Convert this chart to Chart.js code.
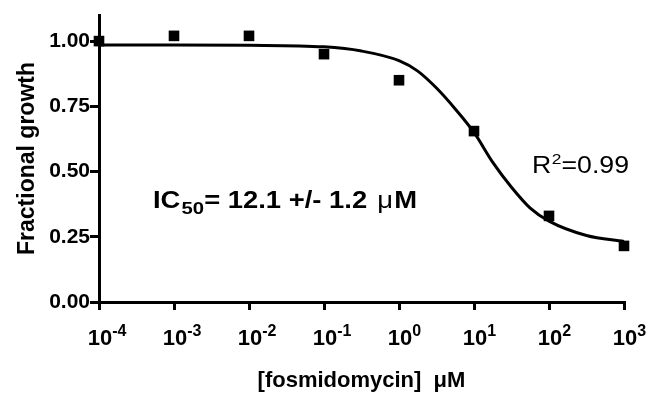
<!DOCTYPE html>
<html lang="en">
<head>
    <meta charset="UTF-8">
    <title>Fosmidomycin dose response</title>
    <script src="https://cdn.jsdelivr.net/npm/chart.js"></script>
    <style>
        body {
            margin: 0;
            background: #fff;
        }
        #wrap {
            width: 656px;
            height: 395px;
            position: relative;
        }
    </style>
</head>
<body>
    <div id="wrap"><canvas id="doseChart"></canvas></div>

    <script>
        // measured points (concentration in uM, fractional growth)
        const concentrations = [1e-4, 1e-3, 1e-2, 1e-1, 1, 10, 100, 1000];
        const growth = [1.0, 1.02, 1.02, 0.95, 0.85, 0.655, 0.33, 0.215];

        // fitted curve
        const fitConc = [1e-4, 1e-3, 1e-2, 1e-1, 0.316, 1, 1.78, 3.16, 5.62, 10, 17.8, 31.6, 56.2, 100, 316, 1000];
        const fitGrowth = [0.985, 0.985, 0.984, 0.978, 0.962, 0.925, 0.885, 0.82, 0.74, 0.65, 0.535, 0.44, 0.36, 0.31, 0.255, 0.232];

        // axis ticks
        const yTicks = [0, 0.25, 0.5, 0.75, 1.0];
        const xTickExponents = [-4, -3, -2, -1, 0, 1, 2, 3];

        const FONT = "'Liberation Sans', Arial, sans-serif";

        // draws a list of [text, font, dy, gap] pieces starting at x, stretched to fit width
        function drawRun(ctx, pieces, x, y, width) {
            let natural = 0;
            pieces.forEach(p => { ctx.font = p[1]; natural += ctx.measureText(p[0]).width + (p[3] || 0); });
            const sx = width ? width / natural : 1;
            ctx.save();
            ctx.translate(x, y);
            ctx.scale(sx, 1);
            let cx = 0;
            pieces.forEach(p => {
                ctx.font = p[1];
                ctx.fillText(p[0], cx, p[2]);
                cx += ctx.measureText(p[0]).width + (p[3] || 0);
            });
            ctx.restore();
        }

        // superscript tick labels + the two annotations
        const textPlugin = {
            id: 'textPlugin',
            afterDraw(chart) {
                const ctx = chart.ctx;
                const xs = chart.scales.x;
                ctx.save();
                ctx.fillStyle = '#000';
                ctx.textBaseline = 'alphabetic';
                ctx.textAlign = 'left';

                xTickExponents.forEach(e => {
                    const px = xs.getPixelForValue(Math.pow(10, e));
                    ctx.font = 'bold 22px ' + FONT;
                    const w = ctx.measureText('10').width;
                    ctx.fillText('10', px - w / 2 + 1, 345);
                    ctx.font = 'bold 16px ' + FONT;
                    ctx.fillText(e < 0 ? '-' + Math.abs(e) : String(e), px + w / 2 + 1, 336);
                });

                // IC50 label
                drawRun(ctx, [
                    ['IC', 'bold 23px ' + FONT, 0, 1],
                    ['50', 'bold 17px ' + FONT, 6],
                    ['= 12.1 +/- 1.2 ', 'bold 23px ' + FONT, 0, 2],
                    ['\u03bc', '23px ' + FONT, 0, 1],
                    ['M', 'bold 23px ' + FONT, 0]
                ], 153, 208, 264);

                // R squared
                drawRun(ctx, [
                    ['R', '23px ' + FONT, 0, 0.5],
                    ['2', '15px ' + FONT, -9],
                    ['=0.99', '23px ' + FONT, 0]
                ], 532, 173, 97);

                ctx.restore();
            }
        };

        const ctx = document.getElementById('doseChart').getContext('2d');
        const doseChart = new Chart(ctx, {
            type: 'scatter',
            data: {
                datasets: [
                    {
                        label: 'Fractional growth',
                        data: concentrations.map((c, i) => ({ x: c, y: growth[i] })),
                        pointStyle: 'rect',
                        pointRadius: 7.5,
                        pointHoverRadius: 7.5,
                        backgroundColor: '#000',
                        borderColor: '#000',
                        borderWidth: 0,
                        showLine: false,
                        clip: false
                    },
                    {
                        label: 'Fit',
                        data: fitConc.map((c, i) => ({ x: c, y: fitGrowth[i] })),
                        showLine: true,
                        pointRadius: 0,
                        borderColor: '#000',
                        borderWidth: 3,
                        cubicInterpolationMode: 'monotone',
                        fill: false,
                        clip: false
                    }
                ]
            },
            options: {
                responsive: true,
                maintainAspectRatio: false,
                animation: false,
                events: [],
                layout: {
                    padding: { top: 15, right: 32, bottom: 0, left: 0 }
                },
                plugins: {
                    legend: { display: false },
                    tooltip: { enabled: false }
                },
                scales: {
                    x: {
                        type: 'logarithmic',
                        min: 1e-4,
                        max: 1e3,
                        afterBuildTicks: s => {
                            s.ticks = xTickExponents.map(e => ({ value: Math.pow(10, e) }));
                        },
                        afterFit: s => { s.height = 93; },
                        ticks: {
                            autoSkip: false,
                            maxRotation: 0,
                            callback: () => ''
                        },
                        grid: {
                            display: true,
                            drawOnChartArea: false,
                            drawTicks: true,
                            tickLength: 8,
                            lineWidth: 3,
                            color: '#000'
                        },
                        border: { display: true, color: '#000', width: 3 },
                        title: {
                            display: true,
                            text: '[fosmidomycin]  \u03bcM',
                            color: '#000',
                            font: { family: FONT, size: 22, weight: 'bold' },
                            padding: { top: 0, bottom: 1 }
                        }
                    },
                    y: {
                        min: 0,
                        max: 1.1,
                        afterBuildTicks: s => {
                            s.ticks = yTicks.map(v => ({ value: v }));
                        },
                        afterFit: s => { s.width = 99; },
                        ticks: {
                            color: '#000',
                            padding: 0,
                            font: { family: FONT, size: 21, weight: 'bold' },
                            callback: v => v.toFixed(2)
                        },
                        grid: {
                            display: true,
                            drawOnChartArea: false,
                            drawTicks: true,
                            tickLength: 9,
                            lineWidth: 3,
                            color: '#000'
                        },
                        border: { display: true, color: '#000', width: 3 },
                        title: {
                            display: true,
                            text: 'Fractional growth',
                            color: '#000',
                            font: { family: FONT, size: 23, weight: 'bold' },
                            padding: { top: 14, bottom: 0 }
                        }
                    }
                }
            },
            plugins: [textPlugin]
        });
    </script>
</body>
</html>
